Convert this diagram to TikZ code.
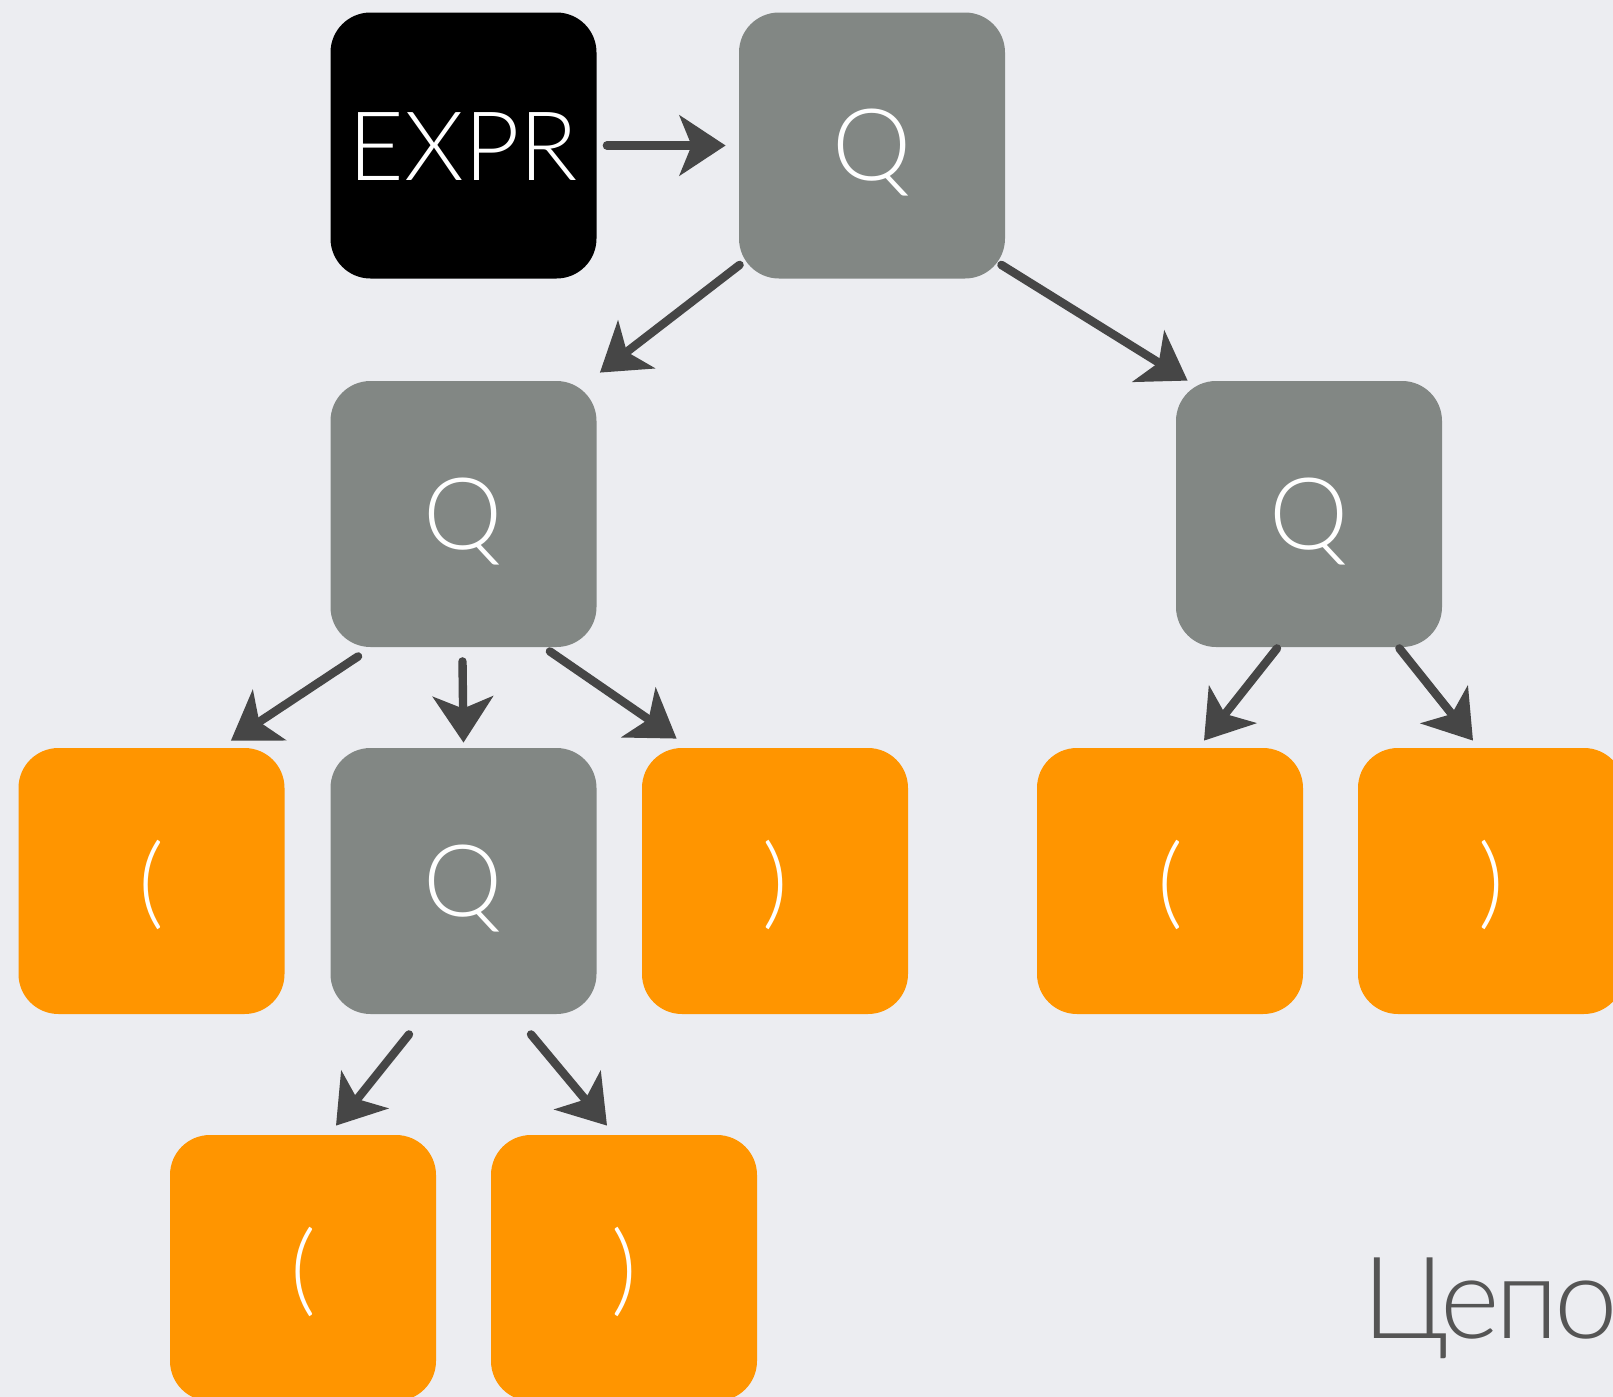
\documentclass[tikz,border=0pt]{standalone}
\usepackage{fontspec}
\setmainfont{Lato}[UprightFont=* Light]
\usetikzlibrary{arrows.meta}
\definecolor{bg}{HTML}{ECEDF1}
\definecolor{boxgray}{HTML}{828784}
\definecolor{boxorange}{HTML}{FF9500}
\definecolor{arrowgray}{HTML}{464646}
\definecolor{captiongray}{HTML}{555555}
\tikzset{
  tile/.style={rectangle, rounded corners=20pt, minimum width=133pt, minimum height=133pt,
    inner sep=0pt, text=white, font=\fontsize{50}{50}\selectfont,
    text height=35pt, text depth=0pt},
  rootbox/.style={tile, fill=black, font=\fontsize{48}{48}\selectfont},
  qbox/.style={tile, fill=boxgray},
  parbox/.style={tile, fill=boxorange},
  arr/.style={draw=arrowgray, line width=4.2pt, line cap=round,
    -{Stealth[length=23pt, width=30pt, inset=6pt]}},
}
\begin{document}
\begin{tikzpicture}[x=0.5pt, y=-0.5pt]
  \useasboundingbox (0,0) rectangle (1613,1397);
  \clip (0,0) rectangle (1613,1397);
  \fill[bg] (0,0) rectangle (1613,1397);

  % tree of tiles
  \node[rootbox] (expr)   at (463.5,145.5) {EXPR};
  \node[qbox]    (qtop)   at (872,145.5)   {Q};
  \node[qbox]    (qleft)  at (463.5,514)   {Q};
  \node[qbox]    (qright) at (1309,514)    {Q};
  \node[parbox]  (lp1)    at (151.5,881)   {(};
  \node[qbox]    (qmid)   at (463.5,881)   {Q};
  \node[parbox]  (rp1)    at (775,881)     {)};
  \node[parbox]  (lp2)    at (1170,881)    {(};
  \node[parbox]  (rp2)    at (1491,881)    {)};
  \node[parbox]  (lp3)    at (303,1268)    {(};
  \node[parbox]  (rp3)    at (624,1268)    {)};

  % caption, running off the right edge
  \node[anchor=base west, inner sep=0pt, text=captiongray,
        font=\fontsize{57}{57}\selectfont\addfontfeature{LetterSpace=-4}] (caption)
        at (1362,1338) {Цепо};

  % connectors
  \draw[arr] ([shift={(10,0)}]expr.east) -- ([shift={(-13,0)}]qtop.west);
  \draw[arr] ([shift={(1,-14)}]qtop.south west) -- ([shift={(3,-8)}]qleft.north east);
  \draw[arr] ([shift={(-4,-14)}]qtop.south east) -- ([shift={(12,0)}]qright.north west);
  \draw[arr] ([shift={(28,9)}]qleft.south west) -- ([shift={(-54,-7)}]lp1.north east);
  \draw[arr] ([shift={(-1,14)}]qleft.south) -- ([shift={(0,-5)}]qmid.north);
  \draw[arr] ([shift={(-47,4)}]qleft.south east) -- ([shift={(35,-9)}]rp1.north west);
  \draw[arr] ([shift={(-32,1)}]qright.south) -- ([shift={(34,-7)}]lp2.north);
  \draw[arr] ([shift={(-43,1)}]qright.south east) -- ([shift={(-18,-7)}]rp2.north);
  \draw[arr] ([shift={(-54.5,20)}]qmid.south) -- ([shift={(33,-9)}]lp3.north);
  \draw[arr] ([shift={(67.5,20)}]qmid.south) -- ([shift={(-17,-9)}]rp3.north);
\end{tikzpicture}
\end{document}
